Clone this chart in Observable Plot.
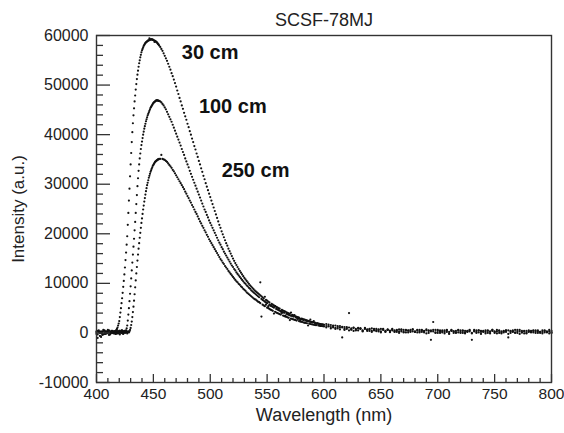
<!DOCTYPE html>
<html>
<head>
<meta charset="utf-8">
<script src="https://cdn.jsdelivr.net/npm/d3@7"></script>
<script src="https://cdn.jsdelivr.net/npm/@observablehq/plot@0.6"></script>
<style>
  body { margin: 0; background: #fff; }
  #chart { width: 564px; height: 433px; }
</style>
</head>
<body>
<div id="chart"></div>
<script>
const title = "SCSF-78MJ";
const xLabel = "Wavelength (nm)";
const yLabel = "Intensity (a.u.)";
const seriesNames = ["30 cm", "100 cm", "250 cm"];

const xTicks = [400, 450, 500, 550, 600, 650, 700, 750, 800];
const yTicks = [-10000, 0, 10000, 20000, 30000, 40000, 50000, 60000];
const xMinorTicks = d3.range(400, 801, 10).filter(v => v % 50 !== 0);
const yMinorTicks = d3.range(-10000, 60001, 2000).filter(v => v % 10000 !== 0);

// sampling grid of the spectrometer (nm)
const wlA = d3.range(400, 416, 1);        // 16 samples
const wlB = d3.range(415.5, 455.25, 0.5); // 80 samples
const wlC = d3.range(456, 601, 1);        // 145 samples
const wlD = d3.range(602, 801, 2);        // 100 samples

// label anchor points (wavelength, intensity)
const labelWl = [475, 490, 510];
const labelInt = [56600, 45700, 32700];

const i30 = [
  // A 400-415
  300, -300, 500, 0, -800, 200, 400, -200, 300, 100, 600, -400, 200, 0, 400, 200,
  // B 415.5-455
  100, 300, 200, 400, 600, 800, 1100, 1500, 1900,
  2400, 3200, 4100, 5000, 6000, 7000, 8100, 9300, 10500, 11800,
  13200, 14700, 16200, 17800, 19500, 21800, 24200, 26700, 29100, 31600,
  34000, 36300, 38500, 40500, 42300, 43900, 45300, 46700, 47900, 49100,
  50200, 51200, 52100, 52900, 53700, 54400, 55000, 55600, 56100, 56600,
  57000, 57300, 57600, 57900, 58100, 58300, 58500, 58600, 58700, 58800,
  58900, 59000, 59000, 59400, 59100, 59200, 59200, 59200, 59200, 59100,
  59100, 59000, 58700, 58900, 58800, 58700, 58600, 58500, 58300, 58200, 58000,
  // C 456-600
  57700, 57300, 56900, 56400, 55900, 55400, 54900, 54300, 53700, 53100,
  52400, 51800, 51100, 50400, 49700, 48900, 48200, 47400, 46700, 45900,
  45200, 44400, 43700, 43000, 42200, 41500, 40700, 40000, 39200, 38500,
  37700, 37000, 36200, 35500, 34700, 34000, 33200, 32500, 31700, 31000,
  30200, 29500, 28800, 28100, 27400, 26700, 26000, 25300, 24600, 23900,
  23200, 22500, 21800, 21200, 20500, 19900, 19300, 18700, 18100, 17600,
  17000, 16500, 16000, 15500, 15000, 14550, 14100, 13700, 13300, 12900,
  12500, 12150, 11800, 11450, 11100, 10800, 10500, 10200, 9900, 9600,
  9350, 9100, 8850, 8600, 8400, 8200, 8000, 7800, 7600, 7400,
  7200, 7000, 7300, 6650, 6500, 6300, 6150, 5500, 5850, 5700,
  5550, 5400, 5250, 5150, 5000, 4900, 4300, 4650, 4500, 4400,
  4300, 4150, 4050, 3950, 3850, 4100, 3650, 3550, 3450, 3350,
  3250, 3200, 3100, 2600, 2900, 2850, 2750, 2700, 2600, 2550,
  2450, 2400, 2700, 2250, 2200, 2150, 2100, 1600, 1950, 1900,
  1850, 1800, 1750, 1700, 1650,
  // D 602-800
  1800, 1300, 1600, 1100, 1500, 900, 1400, 1250, 800, 1200,
  4000, 700, 1100, 600, 1000, 900, 500, 1000, 700, 400,
  900, 500, 800, 300, 800, 600, 200, 700, 450, 800,
  200, 600, 300, 700, 100, 600, 450, 200, 700, 300,
  600, 100, 500, 300, 700, 0, 500, 2200, 100, 600,
  0, 500, 200, 600, -100, 500, 300, 0, 600, 200,
  500, -100, 400, 300, 0, 600, 200, 500, -200, 400,
  200, 500, -100, 400, 200, 600, 0, 300, 100, 500,
  -200, 400, 200, 600, 0, 300, 100, 400, -100, 300,
  200, 500, 0, 300, 200, -100, 400, 200, 600, 100
];

const i100 = [
  // A 400-415
  -200, 400, 100, -600, 300, 0, -300, 500, 200, -100, 300, 100, -200, 400, 0, 300,
  // B 415.5-455
  200, 0, 300, -200, 400, 100, 300, -100, 200, 400, 0, 300, 100, 500, 200, -100, 300, 200, 400, 100, 300,
  500, 900, 1500, 2500, 3700, 5000, 6400, 7900, 9400, 11000,
  12600, 14200, 15800, 17400, 19000, 20700, 22400, 24200, 26000, 27800,
  29600, 31200, 32700, 34000, 35200, 36200, 37100, 37900, 38600, 39300,
  40000, 40600, 41200, 41700, 42200, 42700, 43100, 43500, 43900, 44200,
  44500, 44800, 45100, 45400, 45600, 45800, 46000, 46200, 46400, 46500,
  46600, 46700, 46800, 46900, 46900, 46900, 46900, 46800, 46800,
  // C 456-600
  46700, 46500, 46200, 45900, 45500, 45100, 44600, 44100, 43600, 43100,
  42600, 42000, 41400, 40800, 40200, 39600, 39000, 38400, 37800, 37100,
  36500, 35900, 35200, 34600, 34000, 33400, 32700, 32100, 31500, 30900,
  30300, 29700, 29100, 28500, 27900, 27300, 26700, 26100, 25500, 24900,
  24400, 23800, 23300, 22700, 22200, 21700, 21200, 20700, 20200, 19700,
  19200, 18700, 18200, 17800, 17300, 16900, 16400, 16000, 15600, 15200,
  14800, 14400, 14000, 13600, 13300, 12900, 12600, 12200, 11900, 11600,
  11300, 11000, 10700, 10400, 10100, 9900, 9600, 9400, 9100, 8900,
  8600, 8400, 8200, 8000, 7800, 7600, 7400, 7200, 10200, 6850,
  6650, 6500, 6300, 6150, 6000, 5400, 5700, 5550, 5400, 5250,
  5100, 5400, 4850, 4750, 4600, 4500, 4400, 4250, 4150, 4050,
  3500, 3850, 3750, 3650, 3550, 3450, 3400, 3300, 3600, 3150,
  3050, 3000, 2900, 2850, 2750, 2700, 2600, 2100, 2500, 2400,
  2350, 2300, 2250, 2200, 2100, 2400, 2000, 1950, 1900, 1850,
  1800, 1400, 1700, 1700, 1650,
  // D 602-800
  1400, 1700, 1200, 1500, 1000, 1400, 1100, -900, 1200, 800,
  1100, 650, 1000, 500, 900, 800, 400, 900, 600, 800,
  400, 800, 500, 700, 300, 800, 400, 600, 300, 700,
  500, 200, 700, 300, 600, 100, 500, 400, 700, 200,
  500, 300, 600, 100, 500, 400, -1400, 300, 600, 0,
  500, 300, -100, 500, 200, 600, 0, 400, 100, 500,
  0, 400, 200, 600, -100, 300, 500, 100, 400, 200,
  -100, 400, 300, 600, 0, 300, 500, -100, 400, 200,
  500, 0, 300, 100, 600, -200, 400, 300, 0, 500,
  100, 400, 500, 0, 200, 500, 100, 300, -100, 400
];

const i250 = [
  // A 400-415
  100, -1000, 300, 200, 0, -400, 600, 100, -200, 300, 0, 500, -300, 200, 100, -100,
  // B 415.5-455
  0, 300, -200, 200, 400, -100, 300, 100, 0, 400, -300, 200, 300, 0, 500, 100, -200, 300, 200, 0, 400, 100, 300, -100, 200, 300, 100,
  300, 600, 1000, 1600, 2300, 3200, 4200, 5300, 6500, 7800,
  9200, 10600, 12000, 13300, 14600, 15800, 17000, 18100, 19200, 20200,
  21200, 22200, 23100, 24000, 24900, 25700, 26500, 27200, 27900, 28600,
  29200, 29800, 30300, 30800, 31300, 31700, 32100, 32500, 32800, 33100,
  33400, 33700, 33900, 34100, 34300, 34500, 34600, 34700, 34800, 34900,
  35000, 35000, 35100,
  // C 456-600
  35100, 35900, 35100, 35000, 34900, 34700, 34500, 34200, 33900, 33600,
  33300, 32900, 32600, 32200, 31800, 31400, 31000, 30600, 30200, 29800,
  29400, 29000, 28500, 28100, 27600, 27200, 26700, 26300, 25800, 25400,
  24900, 24400, 24000, 23500, 23000, 22500, 22100, 21600, 21200, 20700,
  20300, 19800, 19400, 18900, 18500, 18100, 17700, 17300, 16900, 16500,
  16100, 15700, 15300, 14900, 14600, 14200, 13900, 13500, 13200, 12900,
  12500, 12200, 11900, 11600, 11300, 11000, 10700, 10400, 10200, 9900,
  9700, 9400, 9200, 8900, 8700, 8500, 8200, 8000, 7800, 7600,
  7400, 7200, 7000, 6800, 6700, 6500, 6300, 6200, 6000, 3300,
  5700, 5550, 5400, 5700, 5100, 5000, 4850, 4700, 4600, 4450,
  3900, 4250, 4100, 4000, 3900, 3800, 3700, 4000, 3500, 3400,
  3300, 3250, 3150, 3050, 2600, 2900, 2800, 2750, 2650, 2600,
  2500, 2800, 2400, 2300, 2250, 2200, 2100, 2050, 2000, 1950,
  1500, 1850, 1800, 1750, 1700, 1650, 1600, 1550, 1900, 1500,
  1450, 1400, 1400, 1350, 1300,
  // D 602-800
  1100, 1400, 900, 1300, 800, 1200, 700, 1100, 600, 1000,
  500, 900, 400, 800, 500, 900, 300, 800, 400, 700,
  200, 700, 350, 600, 100, 700, 300, 600, 150, 500,
  300, 500, 0, 600, 200, 500, 100, 600, 300, 200,
  100, 600, 200, 400, -100, 500, 300, 600, 0, 400,
  300, 100, 500, 200, -200, 400, 300, 100, 500, 0,
  400, 100, 300, 500, -1400, 400, 0, 500, 200, 300,
  500, 0, 200, 600, 300, -100, 400, 100, 300, 500,
  -900, 300, 500, 0, 300, 600, 100, -100, 400, 200,
  400, 100, 300, 500, 0, 200, 500, 100, 300, 0
];

const wl = [...wlA, ...wlB, ...wlC, ...wlD];
const points = [];
[i30, i100, i250].forEach((vals, k) => {
  vals.forEach((v, i) => { if (i < wl.length) points.push({series: seriesNames[k], w: wl[i], v}); });
});
const labels = seriesNames.map((s, k) => ({text: s, w: labelWl[k], v: labelInt[k]}));

const ink = "#222";
const chart = Plot.plot({
  width: 564,
  height: 433,
  marginLeft: 96,
  marginRight: 13,
  marginTop: 35,
  marginBottom: 51,
  style: {fontFamily: "'Liberation Sans', Arial, sans-serif", color: ink, background: "#fff", overflow: "visible"},
  x: {domain: [400, 800]},
  y: {domain: [-10000, 60000]},
  marks: [
    Plot.dot(points, {x: "w", y: "v", r: 1.1, fill: "#111", stroke: "none"}),
    Plot.frame({stroke: "#333", strokeWidth: 1.4}),
    // y axis: labels, major and minor inward ticks
    Plot.axisY({ticks: yTicks, tickSize: 0, tickPadding: 8, fontSize: 16, label: null, tickFormat: d => String(d), fill: ink}),
    Plot.axisY({ticks: yTicks, tickSize: 14, dx: 14, fill: "none", stroke: "#333", strokeWidth: 1.3, label: null}),
    Plot.axisY({ticks: yMinorTicks, tickSize: 7, dx: 7, fill: "none", stroke: "#333", strokeWidth: 1.3, label: null}),
    // x axis
    Plot.axisX({ticks: xTicks, tickSize: 0, tickPadding: 5, fontSize: 15.5, label: null, tickFormat: d => String(d), fill: ink}),
    Plot.axisX({ticks: xTicks, tickSize: 8, dy: -8, fill: "none", stroke: "#333", strokeWidth: 1.3, label: null}),
    Plot.axisX({ticks: xMinorTicks, tickSize: 4, dy: -4, fill: "none", stroke: "#333", strokeWidth: 1.3, label: null}),
    // axis titles and chart title
    Plot.text([xLabel], {text: d => d, frameAnchor: "bottom", lineAnchor: "middle", dy: 33, fontSize: 18, fill: ink}),
    Plot.text([yLabel], {text: d => d, frameAnchor: "left", rotate: -90, dx: -78, textAnchor: "middle", lineAnchor: "middle", fontSize: 17, fill: ink}),
    Plot.text([title], {text: d => d, frameAnchor: "top", lineAnchor: "middle", dy: -15, fontSize: 18, fill: ink}),
    // curve labels
    Plot.text(labels, {x: "w", y: "v", text: "text", textAnchor: "start", fontWeight: "bold", fontSize: 20, fill: "#111"})
  ]
});
document.getElementById("chart").append(chart);
</script>
</body>
</html>
